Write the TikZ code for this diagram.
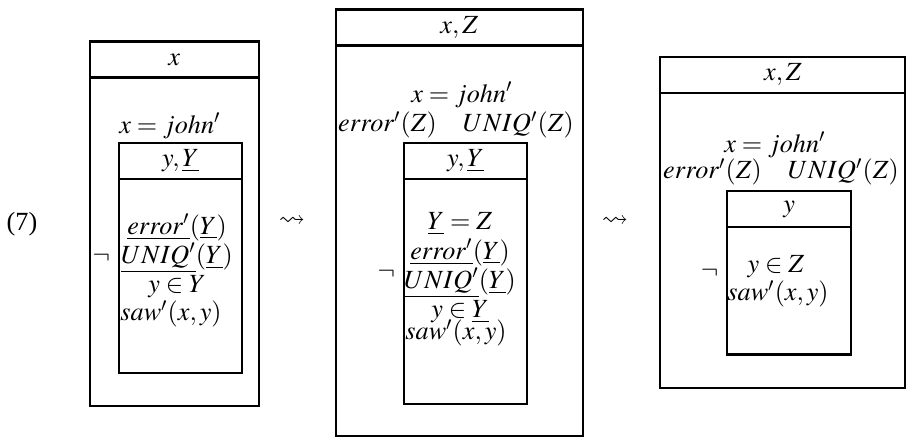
\documentclass[tikz,border=0pt]{standalone}
\usepackage{amssymb}
\usepackage{mathptmx}
\usepackage{fontspec}
\setmainfont{Liberation Serif}
\usetikzlibrary{positioning}

\begin{document}
\begin{tikzpicture}[
    x=0.42pt, y=-0.42pt,
    every node/.style={align=center, inner sep=0pt, font=\fontsize{11}{12.3}\selectfont},
    drsbox/.style={
        draw,
        line width=1pt,
        anchor=north west
    },
    drshead/.style={
        draw,
        line width=1pt,
        anchor=north west,
        minimum height=15.1pt
    }
]

\useasboundingbox (0,0) rectangle (906,437);

\node (num) at (22,224) {(7)};

% first DRS
\node[drsbox, minimum width=71.1pt, minimum height=153.1pt] (boxA) at (88.5,40.5) {};
\node[drshead, minimum width=71.1pt] (headA) at (boxA.north west) {$x$};
\node (condA) at (170,126) {$x = john'$};
\node[drsbox, minimum width=51.8pt, minimum height=96.6pt] (subA) at (117.7,141.7) {};
\node[drshead, minimum width=51.8pt] (subheadA) at (subA.north west) {$y,\underline{Y}$};
\node (bodyA) at (177,256) {$\underline{error'}(\underline{Y})$\\ $\underline{UNIQ'}(\underline{Y})$\\ $y \in Y$};
\node[anchor=west] (sawA) at (120,314) {$saw'(x,y)$};
\node[left=3pt of subA] (negA) {$\neg$};

\node (stepA) at (292,222) {$\leadsto$};

% second DRS
\node[drsbox, minimum width=103.7pt, minimum height=179.2pt] (boxB) at (334.7,8.3) {};
\node[drshead, minimum width=103.7pt] (headB) at (boxB.north west) {$x,Z$};
\node (condB) at (462,95) {$x = john'$};
\node (condBB) at (456,125) {$error'(Z)\quad UNIQ'(Z)$};
\node[drsbox, minimum width=51.8pt, minimum height=109.7pt] (subB) at (402.7,141.7) {};
\node[drshead, minimum width=51.8pt] (subheadB) at (subB.north west) {$y,\underline{Y}$};
\node (bodyB) at (460,268) {$\underline{Y} = Z$\\ $\underline{error'}(\underline{Y})$\\ $\underline{UNIQ'}(\underline{Y})$\\ $y \in \underline{Y}$};
\node[anchor=west] (sawB) at (405,333) {$saw'(x,y)$};
\node[left=3pt of subB] (negB) {$\neg$};

\node (stepB) at (615,222) {$\leadsto$};

% third DRS
\node[drsbox, minimum width=103.1pt, minimum height=139.1pt] (boxC) at (659,55.7) {};
\node[drshead, minimum width=103.1pt] (headC) at (boxC.north west) {$x,Z$};
\node (condC) at (775,145) {$x = john'$};
\node (condCC) at (781,172) {$error'(Z)\quad UNIQ'(Z)$};
\node[drsbox, minimum width=52pt, minimum height=68.6pt] (subC) at (726,190) {};
\node[drshead, minimum width=52pt] (subheadC) at (subC.north west) {$y$};
\node (bodyC) at (776,267) {$y \in Z$};
\node[anchor=west] (sawC) at (727,294) {$saw'(x,y)$};
\node[left=3pt of subC] (negC) {$\neg$};

\end{tikzpicture}
\end{document}
